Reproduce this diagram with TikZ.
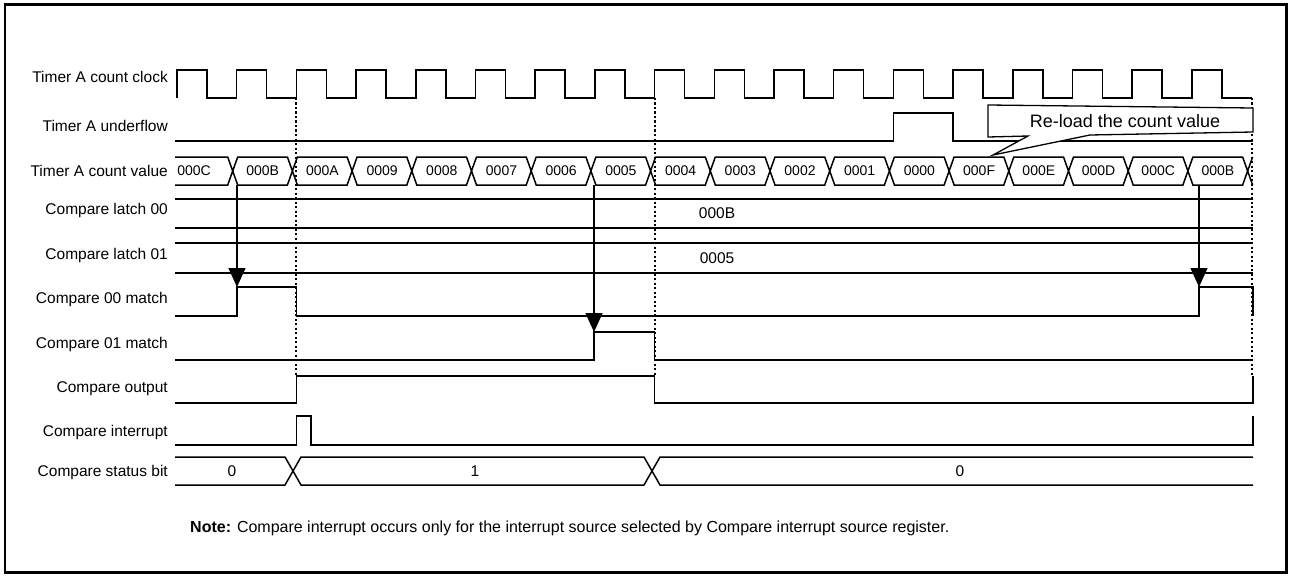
\documentclass[tikz,border=0pt]{standalone}
\usepackage{fontspec}
\setmainfont{Liberation Sans}
\usetikzlibrary{arrows.meta}
\tikzset{
    frame/.style={draw=black, line width=2.4pt},
    sig/.style={draw=black, line width=1.5pt, line join=miter},
    marker/.style={draw=black, line width=2.1pt, dash pattern=on 2.1pt off 2.4pt},
    lbl/.style={anchor=east, inner sep=0pt, font=\fontsize{15.5}{18}\selectfont},
    busval/.style={inner sep=0pt, font=\fontsize{14}{16}\selectfont},
    latchval/.style={inner sep=0pt, font=\fontsize{15.5}{18}\selectfont},
    matcharr/.style={-{Triangle[length=19pt, width=17pt]}, line width=1.5pt},
    calloutbox/.style={draw=black, fill=white, line width=1.3pt, line join=miter},
    notetext/.style={anchor=west, inner sep=0pt, font=\fontsize{16}{19}\selectfont},
}

\begin{document}
\begin{tikzpicture}[x=1pt, y=-1pt]
\useasboundingbox (0,0) rectangle (1289,575);

% outer frame
\draw[frame] (4.7,4.7) rectangle (1286.5,572.5);

% ═══ SIGNAL NAMES ═══
\node[lbl] (lclk)  at (168,77)  {Timer A count clock};
\node[lbl] (lufl)  at (168,126) {Timer A underflow};
\node[lbl] (lcnt)  at (168,171) {Timer A count value};
\node[lbl] (ll00)  at (168,210) {Compare latch 00};
\node[lbl] (ll01)  at (168,255) {Compare latch 01};
\node[lbl] (lm00)  at (168,299) {Compare 00 match};
\node[lbl] (lm01)  at (168,344) {Compare 01 match};
\node[lbl] (lout)  at (168,389) {Compare output};
\node[lbl] (lint)  at (168,432) {Compare interrupt};
\node[lbl] (lstat) at (168,472) {Compare status bit};

% ═══ CLOCK + UNDERFLOW ═══
\draw[sig] (177,98) foreach \k in {0,...,17} { -- ++(0,-28) -- ++(30,0) -- ++(0,28) -- ++(29.7,0) };
\draw[sig] (175,141) -- (893.4,141) -- (893.4,113) -- (953.1,113) -- (953.1,141) -- (1253,141);

% ═══ COUNT VALUE BUS ═══
\draw[sig] (175,157) foreach \k in {1,...,18} { -- ({177+59.7*\k-9},157) -- ({177+59.7*\k-4},171) -- ({177+59.7*\k+1},157) };
\draw[sig] (175,185) foreach \k in {1,...,18} { -- ({177+59.7*\k-9},185) -- ({177+59.7*\k-4},171) -- ({177+59.7*\k+1},185) };
\foreach \v [count=\k from 0] in {000C,000B,000A,0009,0008,0007,0006,0005,0004,0003,0002,0001,0000,000F,000E,000D,000C,000B}
    \node[busval] (cv\k) at ({ifthenelse(\k==0,194,177+59.7*\k+26)},171) {\v};

% ═══ COMPARE LATCHES ═══
\draw[sig] (175,199) -- (1253,199);
\draw[sig] (175,228) -- (1253,228);
\draw[sig] (175,243) -- (1253,243);
\draw[sig] (175,273) -- (1253,273);
\node[latchval] (lv00) at (717,213) {000B};
\node[latchval] (lv01) at (717,258) {0005};

% ═══ MATCH / OUTPUT / INTERRUPT ═══
\draw[sig] (175,316) -- (237,316) -- (237,287) -- (296.4,287) -- (296.4,316) -- (1199,316) -- (1199,287) -- (1253,287) -- (1253,316);
\draw[sig] (175,360) -- (594,360) -- (594,332) -- (654.6,332) -- (654.6,360) -- (1253,360);
\draw[sig] (175,403) -- (296.4,403) -- (296.4,376) -- (654.6,376) -- (654.6,403) -- (1253,403) -- (1253,376);
\draw[sig] (175,445) -- (296.4,445) -- (296.4,416) -- (311,416) -- (311,445) -- (1253,445) -- (1253,416);

% ═══ STATUS BIT BUS ═══
\draw[sig] (175,457) -- (285,457) -- (293,471) -- (301,457) -- (644,457) -- (652,471) -- (660,457) -- (1253,457);
\draw[sig] (175,485) -- (285,485) -- (293,471) -- (301,485) -- (644,485) -- (652,471) -- (660,485) -- (1253,485);
\node[latchval] (sv0) at (232,471) {0};
\node[latchval] (sv1) at (475,471) {1};
\node[latchval] (sv2) at (960,471) {0};

% dotted timing markers
\draw[marker] (296.4,98) -- (296.4,376);
\draw[marker] (654.6,98) -- (654.6,376);
\draw[marker] (1251.6,98) -- (1251.6,376);

% ═══ MATCH ARROWS ═══
\coordinate (a1s) at (237,185);  \coordinate (a1e) at (237,287);
\coordinate (a2s) at (594,185);  \coordinate (a2e) at (594,332);
\coordinate (a3s) at (1199,185); \coordinate (a3e) at (1199,287);
\draw[matcharr] (a1s) -- (a1e);
\draw[matcharr] (a2s) -- (a2e);
\draw[matcharr] (a3s) -- (a3e);

% reload callout
\draw[calloutbox] (988,105) -- (1253,108) -- (1253,132) -- (1090,135) -- (993,155) -- (1028,136) -- (988,137) -- cycle;
\node[inner sep=0pt, font=\fontsize{18}{21}\selectfont] (reload) at (1125,121) {Re-load the count value};

% note
\node[notetext] (note) at (190,528) {\textbf{Note:} Compare interrupt occurs only for the interrupt source selected by Compare interrupt source register.};

\end{tikzpicture}
\end{document}
